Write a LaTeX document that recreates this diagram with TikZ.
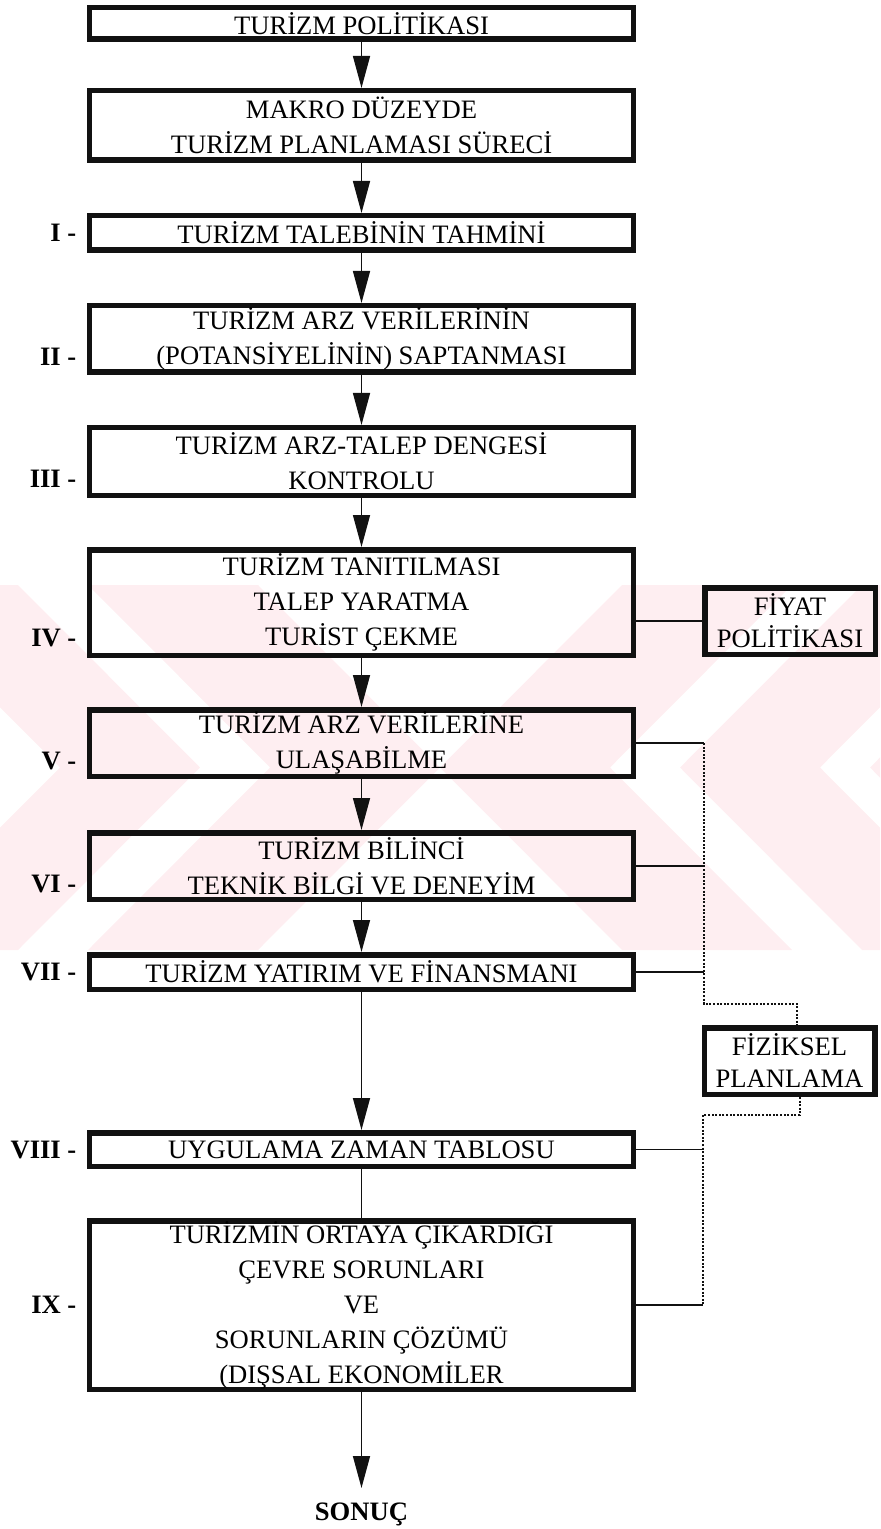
\documentclass[tikz,border=0pt]{standalone}
\usepackage{fontspec}
\setmainfont{Liberation Serif}
\usetikzlibrary{arrows.meta,positioning,calc}
\definecolor{figInk}{HTML}{111111}
\definecolor{figMark}{RGB}{254,238,241}

\begin{document}
\begin{tikzpicture}[x=0.5pt,y=-0.5pt,
  font=\fontsize{13.3}{17.5}\selectfont,>={Triangle[length=16pt,width=8.5pt]},
  node distance=25pt,
  mainbox/.style={draw=figInk,line width=2.75pt,minimum width=272pt,inner sep=0pt,align=center},
  sidebox/.style={draw=figInk,line width=2.75pt,minimum width=85.25pt,minimum height=33.25pt,
                  inner sep=0pt,align=center,font=\fontsize{13.3}{16}\selectfont},
  numlbl/.style={font=\fontsize{13.3}{16}\selectfont\bfseries,anchor=east,inner sep=0pt},
  endlbl/.style={font=\fontsize{13.3}{16}\selectfont\bfseries,inner sep=7.5pt,outer sep=0pt},
  fl/.style={->,figInk,line width=0.75pt},
  ln/.style={figInk,line width=0.75pt},
  dl/.style={figInk,line width=0.9pt,dash pattern=on 1pt off 0.8pt}
]
\useasboundingbox (0,0) rectangle (880,1529);

% watermark of the scan
\begin{scope}
  \clip (0,585) rectangle (880,950);
  \foreach \a/\b in {60/200,270/440}
    \fill[figMark] (\a-182,585) -- (\a,767.5) -- (\a-182,950) -- (\b-182,950) -- (\b,767.5) -- (\b-182,585) -- cycle;
  \foreach \a/\b in {440/610,680/820,870/1060}
    \fill[figMark] (\a+182,585) -- (\a,767.5) -- (\a+182,950) -- (\b+182,950) -- (\b,767.5) -- (\b+182,585) -- cycle;
\end{scope}

\node[mainbox,minimum height=15.75pt] (pol) at (361.5,23.5) {TURİZM POLİTİKASI};
\node[mainbox,minimum height=34.75pt,below=23pt of pol] (mak) {MAKRO DÜZEYDE\\TURİZM PLANLAMASI SÜRECİ};
\node[mainbox,minimum height=17.25pt,below=of mak] (s1) {TURİZM TALEBİNİN TAHMİNİ};
\node[mainbox,minimum height=33.25pt,below=of s1]  (s2) {TURİZM ARZ VERİLERİNİN\\(POTANSİYELİNİN) SAPTANMASI};
\node[mainbox,minimum height=33.75pt,below=of s2]  (s3) {TURİZM ARZ-TALEP DENGESİ\\KONTROLU};
\node[mainbox,minimum height=52.75pt,below=24.5pt of s3] (s4) {TURİZM TANITILMASI\\TALEP YARATMA\\TURİST ÇEKME};
\node[mainbox,minimum height=33.25pt,below=24.5pt of s4] (s5) {TURİZM ARZ VERİLERİNE\\ULAŞABİLME};
\node[mainbox,minimum height=33.25pt,below=25.5pt of s5] (s6) {TURİZM BİLİNCİ\\TEKNİK BİLGİ VE DENEYİM};
\node[mainbox,minimum height=17.25pt,below=of s6]  (s7) {TURİZM YATIRIM VE FİNANSMANI};
\node[mainbox,minimum height=16.75pt,below=69pt of s7] (s8) {UYGULAMA ZAMAN TABLOSU};
\node[mainbox,minimum height=84.25pt,below=24.5pt of s8] (s9) {TURİZMİN ORTAYA ÇIKARDIĞI\\ÇEVRE SORUNLARI\\VE\\SORUNLARIN ÇÖZÜMÜ\\(DIŞSAL EKONOMİLER};
\node[endlbl,below=48pt of s9] (son) {SONUÇ};

\node[numlbl] (n1) at ([xshift=-5pt]s1.west) {I -};
\node[numlbl] (n2) at ([xshift=-5pt,yshift=-8.75pt]s2.west) {II -};
\node[numlbl] (n3) at ([xshift=-5pt,yshift=-8.75pt]s3.west) {III -};
\node[numlbl] (n4) at ([xshift=-5pt,yshift=-17.5pt]s4.west) {IV -};
\node[numlbl] (n5) at ([xshift=-5pt,yshift=-8.75pt]s5.west) {V -};
\node[numlbl] (n6) at ([xshift=-5pt,yshift=-8.75pt]s6.west) {VI -};
\node[numlbl] (n7) at ([xshift=-5pt]s7.west) {VII -};
\node[numlbl] (n8) at ([xshift=-5pt]s8.west) {VIII -};
\node[numlbl] (n9) at ([xshift=-5pt]s9.west) {IX -};

\node[sidebox] (fiy) at (790,621)    {FİYAT\\POLİTİKASI};
\node[sidebox] (fiz) at (789.5,1061) {FİZİKSEL\\PLANLAMA};

\draw[fl] (pol) -- (mak);
\draw[fl] (mak) -- (s1);
\foreach \u/\v in {s1/s2,s2/s3,s3/s4,s4/s5,s5/s6,s6/s7,s7/s8}
  \draw[fl] (\u) -- (\v);
\draw[ln] (s8) -- (s9);
\draw[fl] (s9) -- (son);

% side links
\draw[ln] (s4.east |- fiy.west) -- (fiy.west);
\coordinate (busT) at (704,1004);
\coordinate (busB) at (703,1115);
\foreach \b in {s5,s6,s7}
  \draw[ln] (\b.east) -- (\b.east -| busT);
\foreach \b in {s8,s9}
  \draw[ln] (\b.east) -- (\b.east -| busB);
\draw[dl] (s5.east -| busT) -- (busT) -| ([xshift=3.75pt]fiz.north);
\draw[dl] ([xshift=5.25pt]fiz.south) |- (busB) -- (s9.east -| busB);
\end{tikzpicture}
\end{document}
